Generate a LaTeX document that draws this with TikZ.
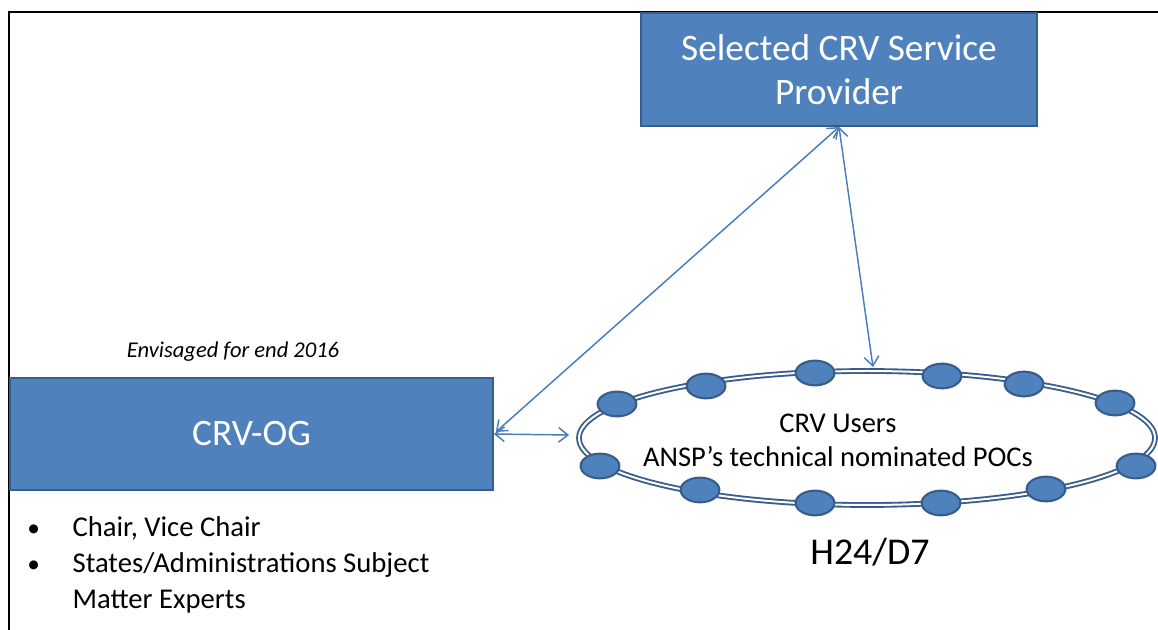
\documentclass[tikz,border=0pt]{standalone}
\usepackage{fontspec}
\setmainfont{Carlito}
\usetikzlibrary{shapes.geometric,arrows.meta,calc}
\definecolor{boxfill}{HTML}{4F81BD}
\definecolor{boxline}{HTML}{385D8A}
\definecolor{arrowc}{HTML}{4A7EBB}
\begin{document}
\begin{tikzpicture}[x=0.75pt,y=-0.75pt,
  bluebox/.style={draw=boxline,line width=1.5pt,fill=boxfill,text=white,inner sep=0pt,align=center,font=\fontsize{28}{33}\selectfont},
  dot/.style={ellipse,draw=boxline,line width=1.6pt,fill=boxfill,minimum width=29pt,minimum height=18.5pt,inner sep=0pt},
  bullet/.style={font=\fontsize{21.5}{27}\selectfont,anchor=base west,inner sep=0pt},
  link/.style={draw=arrowc,line width=1.1pt,{Straight Barb[length=7pt,width=11pt]}-{Straight Barb[length=7pt,width=11pt]}}]
\useasboundingbox (0,0) rectangle (1158,630);
% frame
\draw[line width=1.6pt,black] (9,630) -- (9,12) -- (1158,12);
% boxes
\node[bluebox,minimum width=297pt,minimum height=84.75pt] (sp) at (839,69.5) {Selected CRV Service\\Provider};
\node[bluebox,minimum width=362pt,minimum height=84pt] (og) at (251.5,434) {CRV-OG};
\node[font=\fontsize{16.9}{20}\selectfont\itshape] (env) at (233,352) {Envisaged for end 2016};
% ring
\node[ellipse,draw=boxline,double=white,double distance=1.5pt,line width=1.4pt,minimum width=432pt,minimum height=100.5pt,inner sep=0pt] (ring) at (867,438) {};
\foreach \n/\x/\y in {d1/617/404,d2/706/386,d3/815/373,d4/942/376,d5/1024/384,d6/1115/403,d7/600/466,d8/700/490,d9/815/503,d10/941/503,d11/1046/489,d12/1136/466}
  \node[dot] (\n) at (\x,\y) {};
\node[font=\fontsize{21.4}{25.5}\selectfont,align=center] (users) at (838,440) {CRV Users\\ANSP’s technical nominated POCs};
\node[font=\fontsize{28.4}{32}\selectfont] (h24) at (870,552) {H24/D7};
% bullets
\node[bullet] (b1) at (27,537) {\makebox[34pt][l]{\fontsize{19}{19}\selectfont•}Chair, Vice Chair};
\node[bullet] (b2) at (27,573) {\makebox[34pt][l]{\fontsize{19}{19}\selectfont•}States/Administrations Subject};
\node[bullet] (b3) at (27,609) {\hspace*{34pt}Matter Experts};
% connectors
\draw[link] (og.east) -- ($(ring.west)+(-9,-3)$);
\draw[link] ($(og.east)+(2,-2)$) -- (sp.south);
\draw[link] (sp.south) -- ($(ring.north)+(6,-3)$);
\end{tikzpicture}
\end{document}
